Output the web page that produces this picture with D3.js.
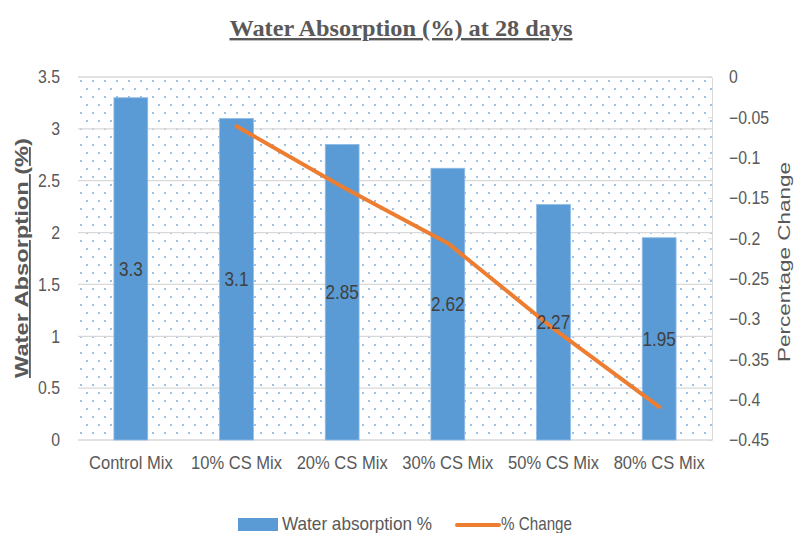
<!DOCTYPE html>
<html>
<head>
<meta charset="utf-8">
<script src="https://cdn.jsdelivr.net/npm/d3@7"></script>
<style>
  body { margin: 0; background: #fff; }
  text { font-family: "Liberation Sans", Arial, sans-serif; }
</style>
</head>
<body>
<div id="chart"></div>
<script>
// chart data
const categories = ['Control Mix', '10% CS Mix', '20% CS Mix', '30% CS Mix', '50% CS Mix', '80% CS Mix'];
const absorption = [3.3, 3.1, 2.85, 2.62, 2.27, 1.95];
const changeCats = ['10% CS Mix', '20% CS Mix', '30% CS Mix', '50% CS Mix', '80% CS Mix'];
const pctChange = [-0.061, -0.136, -0.206, -0.312, -0.409];
const leftTicks = [0, 0.5, 1, 1.5, 2, 2.5, 3, 3.5];
const rightTicks = [0, -0.05, -0.1, -0.15, -0.2, -0.25, -0.3, -0.35, -0.4, -0.45];

const width = 794, height = 533;
const plot = { left: 78, right: 712, top: 77, bottom: 440 };

const svg = d3.select('#chart').append('svg')
  .attr('width', width)
  .attr('height', height);

// squeeze text horizontally (the original uses a narrow font)
function condense(sel, k, padX) {
  sel.each(function () {
    const t = d3.select(this);
    t.attr('transform', `scale(${k},1)`);
    if (padX !== undefined) t.attr('x', padX / k);
  });
}

// dotted background pattern
const pat = svg.append('defs').append('pattern')
  .attr('id', 'dots')
  .attr('patternUnits', 'userSpaceOnUse')
  .attr('width', 12)
  .attr('height', 16)
  .attr('x', plot.left)
  .attr('y', plot.top);
pat.append('circle').attr('cx', 3).attr('cy', 4).attr('r', 0.9).attr('fill', '#6fa3d8');
pat.append('circle').attr('cx', 9).attr('cy', 12).attr('r', 0.9).attr('fill', '#6fa3d8');

svg.append('rect')
  .attr('x', plot.left).attr('y', plot.top)
  .attr('width', plot.right - plot.left).attr('height', plot.bottom - plot.top)
  .attr('fill', 'url(#dots)');

const x = d3.scaleBand().domain(categories).range([plot.left, plot.right]);
const yL = d3.scaleLinear().domain([0, 3.5]).range([plot.bottom, plot.top]);
const yR = d3.scaleLinear().domain([-0.45, 0]).range([plot.bottom, plot.top]);

// gridlines
svg.append('g').selectAll('line')
  .data(leftTicks)
  .enter().append('line')
  .attr('x1', plot.left).attr('x2', plot.right)
  .attr('y1', d => yL(d)).attr('y2', d => yL(d))
  .attr('stroke', '#d9d9d9')
  .attr('stroke-width', 1.3);

// left axis
const leftAxis = svg.append('g')
  .attr('transform', `translate(${plot.left},0)`)
  .call(d3.axisLeft(yL).tickValues(leftTicks).tickSize(0).tickFormat(d3.format('')));
leftAxis.select('.domain').remove();
leftAxis.selectAll('text').attr('font-size', 18).attr('fill', '#595959')
  .call(condense, 0.88, -18);

// right axis
const rightAxis = svg.append('g')
  .attr('transform', `translate(${plot.right},0)`)
  .call(d3.axisRight(yR).tickValues(rightTicks).tickSize(0).tickFormat(d3.format('')));
rightAxis.select('.domain').attr('stroke', '#d9d9d9');
rightAxis.selectAll('text').attr('font-size', 18).attr('fill', '#595959')
  .call(condense, 0.88, 17);
rightAxis.selectAll('.tick').append('line')
  .attr('x1', -4).attr('x2', 0)
  .attr('stroke', '#d9d9d9');

// x axis labels
const xAxis = svg.append('g')
  .attr('transform', `translate(0,${plot.bottom + 13})`)
  .call(d3.axisBottom(x).tickSize(0));
xAxis.select('.domain').remove();
xAxis.selectAll('text').attr('font-size', 18).attr('fill', '#595959')
  .call(condense, 0.92);

// bars
const barW = x.bandwidth() * 0.32;
svg.append('g').selectAll('rect')
  .data(absorption)
  .enter().append('rect')
  .attr('x', (d, i) => x(categories[i]) + (x.bandwidth() - barW) / 2)
  .attr('y', d => yL(d))
  .attr('width', barW)
  .attr('height', d => yL(0) - yL(d))
  .attr('fill', '#5b9bd5')
  .attr('stroke', '#8fbbe6')
  .attr('stroke-width', 0.8);

// % change line
const line = d3.line()
  .x((d, i) => x(changeCats[i]) + x.bandwidth() / 2)
  .y(d => yR(d));
svg.append('path')
  .datum(pctChange)
  .attr('d', line)
  .attr('fill', 'none')
  .attr('stroke', '#ed7d31')
  .attr('stroke-width', 4)
  .attr('stroke-linecap', 'round')
  .attr('stroke-linejoin', 'round');

// data labels
svg.append('g').selectAll('g')
  .data(absorption)
  .enter().append('g')
  .attr('transform', (d, i) => `translate(${x(categories[i]) + x.bandwidth() / 2},${(yL(d) + yL(0)) / 2 + 7})`)
  .append('text')
  .attr('text-anchor', 'middle')
  .attr('font-size', 20)
  .attr('fill', '#404040')
  .attr('transform', 'scale(0.86,1)')
  .text(d => d);

// title
svg.append('text')
  .attr('x', 401).attr('y', 36)
  .attr('text-anchor', 'middle')
  .style('font-family', '"Liberation Serif", "Times New Roman", serif')
  .attr('font-size', 24)
  .attr('font-weight', 'bold')
  .attr('fill', '#595959')
  .attr('text-decoration', 'underline')
  .attr('textLength', 343)
  .attr('lengthAdjust', 'spacingAndGlyphs')
  .text('Water Absorption (%) at 28 days');

// axis titles
svg.append('text')
  .attr('transform', `translate(28,258) rotate(-90)`)
  .attr('text-anchor', 'middle')
  .attr('font-size', 18)
  .attr('font-weight', 'bold')
  .attr('fill', '#595959')
  .attr('text-decoration', 'underline')
  .attr('textLength', 240)
  .attr('lengthAdjust', 'spacingAndGlyphs')
  .text('Water Absorption (%)');

svg.append('text')
  .attr('transform', `translate(790,262) rotate(-90)`)
  .attr('text-anchor', 'middle')
  .attr('font-size', 17)
  .attr('fill', '#595959')
  .attr('textLength', 200)
  .attr('lengthAdjust', 'spacingAndGlyphs')
  .text('Percentage Change');

// legend
const legend = svg.append('g').attr('transform', 'translate(0,525)');
legend.append('rect')
  .attr('x', 238).attr('y', -7).attr('width', 40).attr('height', 13)
  .attr('fill', '#5b9bd5');
legend.append('text')
  .attr('x', 282).attr('y', 5)
  .attr('font-size', 19).attr('fill', '#595959')
  .attr('textLength', 150)
  .attr('lengthAdjust', 'spacingAndGlyphs')
  .text('Water absorption %');
legend.append('line')
  .attr('x1', 457).attr('x2', 499).attr('y1', 0).attr('y2', 0)
  .attr('stroke', '#ed7d31').attr('stroke-width', 4).attr('stroke-linecap', 'round');
legend.append('text')
  .attr('x', 501).attr('y', 5)
  .attr('font-size', 19).attr('fill', '#595959')
  .attr('textLength', 71)
  .attr('lengthAdjust', 'spacingAndGlyphs')
  .text('% Change');
</script>
</body>
</html>
